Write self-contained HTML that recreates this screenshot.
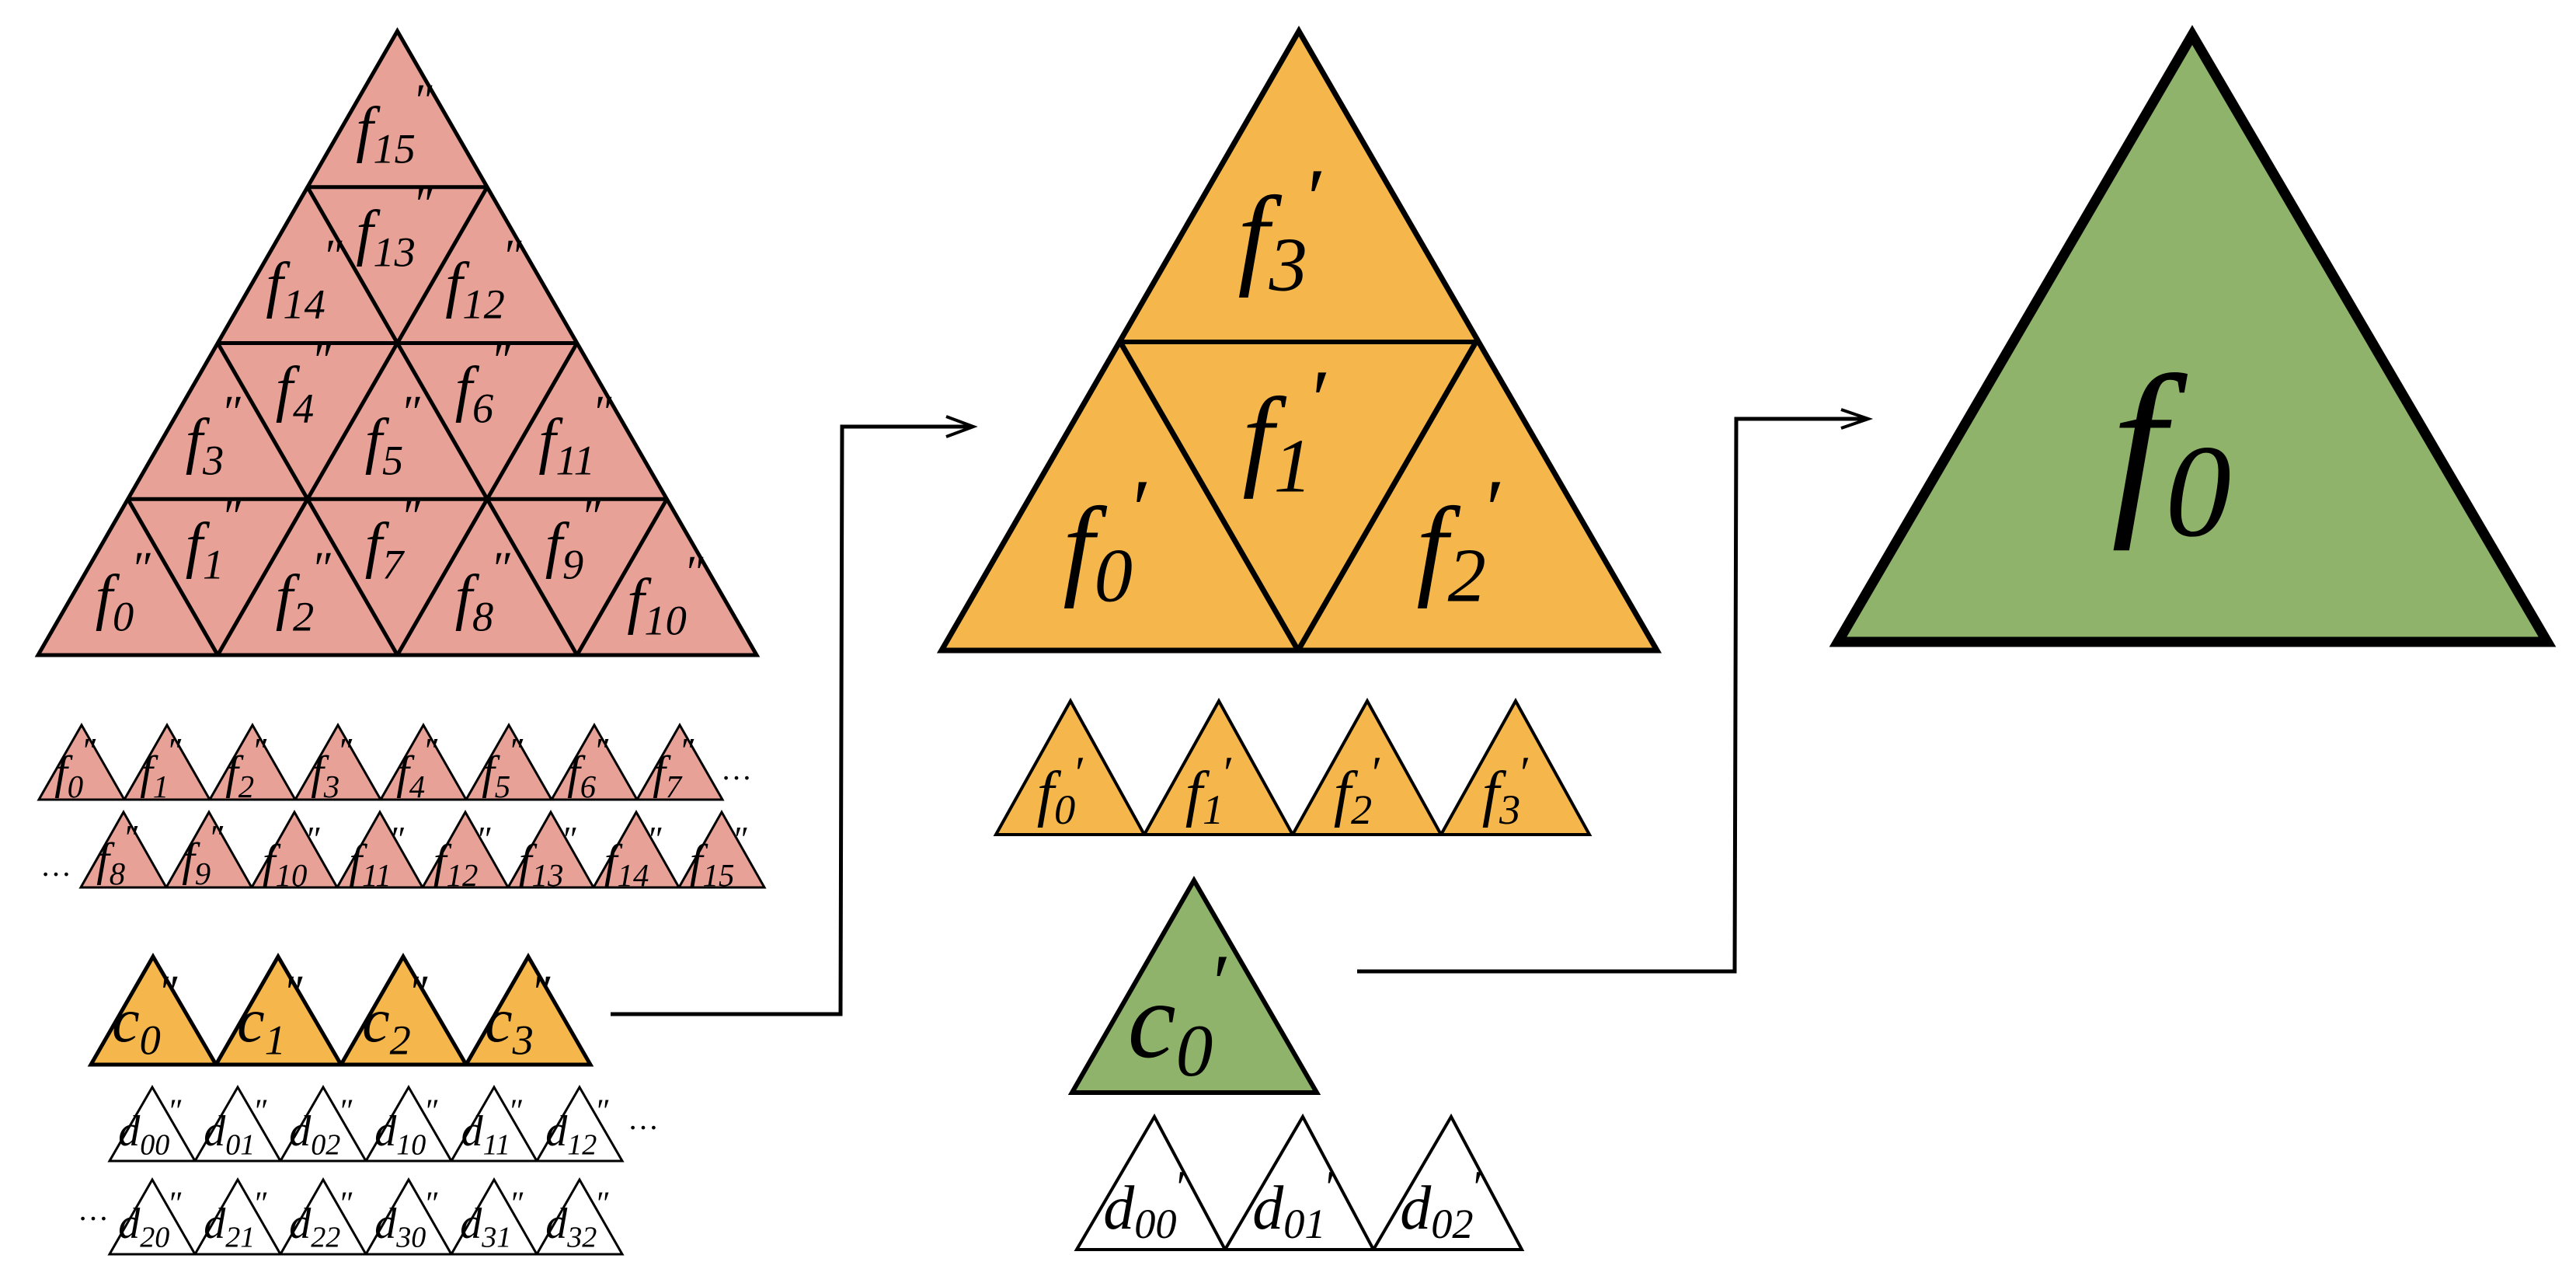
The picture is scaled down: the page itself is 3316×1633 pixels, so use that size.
<!DOCTYPE html>
<html><head><meta charset="utf-8"><style>
html,body{margin:0;padding:0;background:#fff}
svg{display:block}
text{font-family:"Liberation Serif","DejaVu Serif",serif;font-style:italic;fill:#000;text-anchor:middle}
.b{font-size:68%}
.p{font-size:75%;font-style:normal}
.dots{font-style:normal;text-anchor:start}
</style></head><body>
<svg width="3316" height="1633" viewBox="0 0 3316 1633" xmlns="http://www.w3.org/2000/svg">
<g stroke="#000" stroke-width="5" stroke-linejoin="miter" fill="none">
<polygon points="511.5,40 49,843 974,843" fill="#e8a196"/>
<line x1="164.6" y1="642.25" x2="858.4" y2="642.25"/>
<line x1="280.25" y1="441.5" x2="742.75" y2="441.5"/>
<line x1="395.9" y1="240.75" x2="627.1" y2="240.75"/>
<line x1="280.25" y1="843" x2="627.1" y2="240.75"/>
<line x1="511.5" y1="843" x2="742.75" y2="441.5"/>
<line x1="742.75" y1="843" x2="858.4" y2="642.25"/>
<line x1="280.25" y1="843" x2="164.6" y2="642.25"/>
<line x1="511.5" y1="843" x2="280.25" y2="441.5"/>
<line x1="742.75" y1="843" x2="395.9" y2="240.75"/>
</g>
<g font-size="80">
<text x="160" y="795">f<tspan class="b" dy=".3em">0</tspan><tspan class="p" dy="-1.0em">″</tspan></text>
<text x="276" y="728">f<tspan class="b" dy=".3em">1</tspan><tspan class="p" dy="-1.0em">″</tspan></text>
<text x="392" y="795">f<tspan class="b" dy=".3em">2</tspan><tspan class="p" dy="-1.0em">″</tspan></text>
<text x="507" y="728">f<tspan class="b" dy=".3em">7</tspan><tspan class="p" dy="-1.0em">″</tspan></text>
<text x="623" y="795">f<tspan class="b" dy=".3em">8</tspan><tspan class="p" dy="-1.0em">″</tspan></text>
<text x="739" y="728">f<tspan class="b" dy=".3em">9</tspan><tspan class="p" dy="-1.0em">″</tspan></text>
<text x="858" y="800">f<tspan class="b" dy=".3em">10</tspan><tspan class="p" dy="-1.0em">″</tspan></text>
<text x="276" y="594">f<tspan class="b" dy=".3em">3</tspan><tspan class="p" dy="-1.0em">″</tspan></text>
<text x="392" y="527">f<tspan class="b" dy=".3em">4</tspan><tspan class="p" dy="-1.0em">″</tspan></text>
<text x="507" y="594">f<tspan class="b" dy=".3em">5</tspan><tspan class="p" dy="-1.0em">″</tspan></text>
<text x="623" y="527">f<tspan class="b" dy=".3em">6</tspan><tspan class="p" dy="-1.0em">″</tspan></text>
<text x="742" y="594">f<tspan class="b" dy=".3em">11</tspan><tspan class="p" dy="-1.0em">″</tspan></text>
<text x="393" y="393">f<tspan class="b" dy=".3em">14</tspan><tspan class="p" dy="-1.0em">″</tspan></text>
<text x="509" y="326">f<tspan class="b" dy=".3em">13</tspan><tspan class="p" dy="-1.0em">″</tspan></text>
<text x="624" y="393">f<tspan class="b" dy=".3em">12</tspan><tspan class="p" dy="-1.0em">″</tspan></text>
<text x="509" y="193">f<tspan class="b" dy=".3em">15</tspan><tspan class="p" dy="-1.0em">″</tspan></text>
</g>

<g stroke="#000" stroke-width="3" fill="#e8a196">
<polygon points="50,1029 105,933 160,1029"/><polygon points="160,1029 215,933 270,1029"/>
<polygon points="270,1029 325,933 380,1029"/><polygon points="380,1029 435,933 490,1029"/>
<polygon points="490,1029 545,933 600,1029"/><polygon points="600,1029 655,933 710,1029"/>
<polygon points="710,1029 765,933 820,1029"/><polygon points="820,1029 875,933 930,1029"/>
<polygon points="104,1142 159,1045 214,1142"/><polygon points="214,1142 269,1045 324,1142"/>
<polygon points="324,1142 379,1045 434,1142"/><polygon points="434,1142 489,1045 544,1142"/>
<polygon points="544,1142 599,1045 654,1142"/><polygon points="654,1142 709,1045 764,1142"/>
<polygon points="764,1142 819,1045 874,1142"/><polygon points="874,1142 929,1045 984,1142"/>
</g>
<g font-size="60">
<text x="98" y="1014">f<tspan class="b" dy=".3em">0</tspan><tspan class="p" dy="-1.0em">″</tspan></text>
<text x="208" y="1014">f<tspan class="b" dy=".3em">1</tspan><tspan class="p" dy="-1.0em">″</tspan></text>
<text x="318" y="1014">f<tspan class="b" dy=".3em">2</tspan><tspan class="p" dy="-1.0em">″</tspan></text>
<text x="428" y="1014">f<tspan class="b" dy=".3em">3</tspan><tspan class="p" dy="-1.0em">″</tspan></text>
<text x="538" y="1014">f<tspan class="b" dy=".3em">4</tspan><tspan class="p" dy="-1.0em">″</tspan></text>
<text x="648" y="1014">f<tspan class="b" dy=".3em">5</tspan><tspan class="p" dy="-1.0em">″</tspan></text>
<text x="758" y="1014">f<tspan class="b" dy=".3em">6</tspan><tspan class="p" dy="-1.0em">″</tspan></text>
<text x="868" y="1014">f<tspan class="b" dy=".3em">7</tspan><tspan class="p" dy="-1.0em">″</tspan></text>
<text x="152" y="1126">f<tspan class="b" dy=".3em">8</tspan><tspan class="p" dy="-1.0em">″</tspan></text>
<text x="262" y="1126">f<tspan class="b" dy=".3em">9</tspan><tspan class="p" dy="-1.0em">″</tspan></text>
<text x="376" y="1128">f<tspan class="b" dy=".3em">10</tspan><tspan class="p" dy="-1.0em">″</tspan></text>
<text x="486" y="1128">f<tspan class="b" dy=".3em">11</tspan><tspan class="p" dy="-1.0em">″</tspan></text>
<text x="596" y="1128">f<tspan class="b" dy=".3em">12</tspan><tspan class="p" dy="-1.0em">″</tspan></text>
<text x="706" y="1128">f<tspan class="b" dy=".3em">13</tspan><tspan class="p" dy="-1.0em">″</tspan></text>
<text x="816" y="1128">f<tspan class="b" dy=".3em">14</tspan><tspan class="p" dy="-1.0em">″</tspan></text>
<text x="926" y="1128">f<tspan class="b" dy=".3em">15</tspan><tspan class="p" dy="-1.0em">″</tspan></text>
<text class="dots" x="928" y="1003" font-size="40">…</text>
<text class="dots" x="52" y="1127" font-size="40">…</text>
</g>

<g stroke="#000" stroke-width="5" fill="#f5b74b">
<polygon points="117,1370 197,1231 278,1370"/><polygon points="278,1370 358,1231 439,1370"/>
<polygon points="439,1370 519,1231 600,1370"/><polygon points="600,1370 680,1231 760,1370"/>
</g>
<g font-size="80">
<text x="188" y="1340">c<tspan class="b" dy=".3em">0</tspan><tspan class="p" dy="-1.0em">″</tspan></text>
<text x="349" y="1340">c<tspan class="b" dy=".3em">1</tspan><tspan class="p" dy="-1.0em">″</tspan></text>
<text x="510" y="1340">c<tspan class="b" dy=".3em">2</tspan><tspan class="p" dy="-1.0em">″</tspan></text>
<text x="668" y="1340">c<tspan class="b" dy=".3em">3</tspan><tspan class="p" dy="-1.0em">″</tspan></text>
</g>

<g stroke="#000" stroke-width="3" fill="#fff">
<polygon points="141,1494 196,1399 251,1494"/><polygon points="251,1494 306,1399 361,1494"/>
<polygon points="361,1494 416,1399 471,1494"/><polygon points="471,1494 526,1399 581,1494"/>
<polygon points="581,1494 636,1399 691,1494"/><polygon points="691,1494 746,1399 801,1494"/>
<polygon points="141,1614 196,1518 251,1614"/><polygon points="251,1614 306,1518 361,1614"/>
<polygon points="361,1614 416,1518 471,1614"/><polygon points="471,1614 526,1518 581,1614"/>
<polygon points="581,1614 636,1518 691,1614"/><polygon points="691,1614 746,1518 801,1614"/>
</g>
<g font-size="56">
<text x="194" y="1474">d<tspan class="b" dy=".3em">00</tspan><tspan class="p" dy="-1.0em">″</tspan></text>
<text x="304" y="1474">d<tspan class="b" dy=".3em">01</tspan><tspan class="p" dy="-1.0em">″</tspan></text>
<text x="414" y="1474">d<tspan class="b" dy=".3em">02</tspan><tspan class="p" dy="-1.0em">″</tspan></text>
<text x="524" y="1474">d<tspan class="b" dy=".3em">10</tspan><tspan class="p" dy="-1.0em">″</tspan></text>
<text x="634" y="1474">d<tspan class="b" dy=".3em">11</tspan><tspan class="p" dy="-1.0em">″</tspan></text>
<text x="744" y="1474">d<tspan class="b" dy=".3em">12</tspan><tspan class="p" dy="-1.0em">″</tspan></text>
<text x="194" y="1593">d<tspan class="b" dy=".3em">20</tspan><tspan class="p" dy="-1.0em">″</tspan></text>
<text x="304" y="1593">d<tspan class="b" dy=".3em">21</tspan><tspan class="p" dy="-1.0em">″</tspan></text>
<text x="414" y="1593">d<tspan class="b" dy=".3em">22</tspan><tspan class="p" dy="-1.0em">″</tspan></text>
<text x="524" y="1593">d<tspan class="b" dy=".3em">30</tspan><tspan class="p" dy="-1.0em">″</tspan></text>
<text x="634" y="1593">d<tspan class="b" dy=".3em">31</tspan><tspan class="p" dy="-1.0em">″</tspan></text>
<text x="744" y="1593">d<tspan class="b" dy=".3em">32</tspan><tspan class="p" dy="-1.0em">″</tspan></text>
<text class="dots" x="808" y="1453" font-size="40">…</text>
<text class="dots" x="100" y="1570" font-size="40">…</text>
</g>

<g stroke="#000" fill="none">
<polyline points="786,1305 1082,1305 1084,549 1252,549" stroke-width="5"/>
<polyline points="1218,536 1253,549 1218,562" stroke-width="4"/>
</g>

<g stroke="#000" stroke-width="7" fill="#f5b74b" stroke-linejoin="miter">
<polygon points="1672,40 1212,837 2133,837"/>
<line x1="1442" y1="440" x2="1900" y2="440" stroke-width="6"/>
<line x1="1442" y1="440" x2="1671" y2="837"/>
<line x1="1900" y1="440" x2="1671" y2="837"/>
</g>
<g font-size="145">
<text x="1650" y="352">f<tspan class="b" dy=".22em">3</tspan><tspan class="p" dy="-0.75em">′</tspan></text>
<text x="1656" y="611">f<tspan class="b" dy=".22em">1</tspan><tspan class="p" dy="-0.75em">′</tspan></text>
<text x="1425" y="752">f<tspan class="b" dy=".22em">0</tspan><tspan class="p" dy="-0.75em">′</tspan></text>
<text x="1880" y="752">f<tspan class="b" dy=".22em">2</tspan><tspan class="p" dy="-0.75em">′</tspan></text>
</g>

<g stroke="#000" stroke-width="4" fill="#f5b74b">
<polygon points="1282,1074 1378,902 1473,1074"/><polygon points="1473,1074 1569,902 1664,1074"/>
<polygon points="1664,1074 1760,902 1855,1074"/><polygon points="1855,1074 1951,902 2046,1074"/>
</g>
<g font-size="80">
<text x="1366" y="1048">f<tspan class="b" dy=".22em">0</tspan><tspan class="p" dy="-0.75em">′</tspan></text>
<text x="1557" y="1048">f<tspan class="b" dy=".22em">1</tspan><tspan class="p" dy="-0.75em">′</tspan></text>
<text x="1748" y="1048">f<tspan class="b" dy=".22em">2</tspan><tspan class="p" dy="-0.75em">′</tspan></text>
<text x="1939" y="1048">f<tspan class="b" dy=".22em">3</tspan><tspan class="p" dy="-0.75em">′</tspan></text>
</g>

<polygon points="1537,1133 1380,1406 1695,1406" fill="#8fb36a" stroke="#000" stroke-width="6"/>
<text x="1518" y="1360" font-size="140">c<tspan class="b" dy=".25em">0</tspan><tspan class="p" dy="-0.8em">′</tspan></text>

<g stroke="#000" stroke-width="4" fill="#fff">
<polygon points="1386,1608 1486,1437 1577,1608"/><polygon points="1577,1608 1677,1437 1768,1608"/>
<polygon points="1768,1608 1868,1437 1959,1608"/>
</g>
<g font-size="80">
<text x="1474" y="1581">d<tspan class="b" dy=".22em">00</tspan><tspan class="p" dy="-0.75em">′</tspan></text>
<text x="1666" y="1581">d<tspan class="b" dy=".22em">01</tspan><tspan class="p" dy="-0.75em">′</tspan></text>
<text x="1856" y="1581">d<tspan class="b" dy=".22em">02</tspan><tspan class="p" dy="-0.75em">′</tspan></text>
</g>

<g stroke="#000" fill="none">
<polyline points="1747,1250 2233,1250 2235,539 2404,539" stroke-width="5"/>
<polyline points="2370,527 2405,539 2370,551" stroke-width="4"/>
</g>

<polygon points="2822,45 2366,826 3279,826" fill="#8fb36a" stroke="#000" stroke-width="13" stroke-linejoin="miter"/>
<text x="2795" y="655" font-size="250">f<tspan class="b" dy=".2em">0</tspan></text>
</svg>
</body></html>
